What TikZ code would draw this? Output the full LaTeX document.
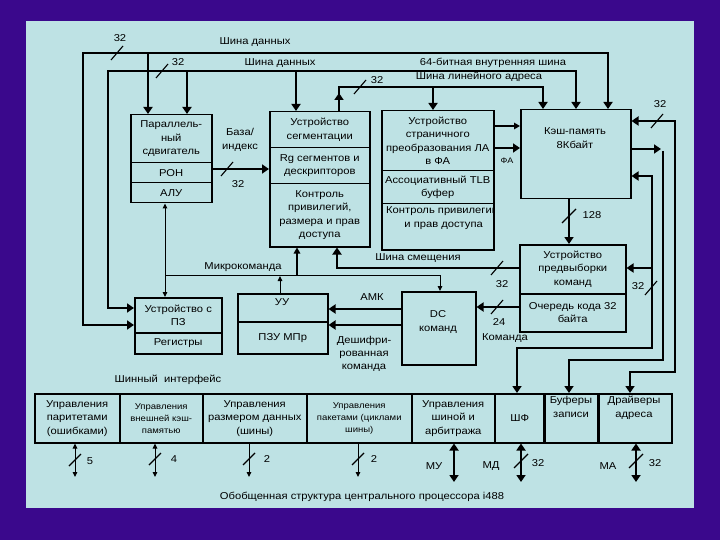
\documentclass[tikz,border=0pt]{standalone}
\usepackage{fontspec}
\setmainfont{Liberation Sans}[FakeStretch=1.12]
\usetikzlibrary{arrows.meta}
\definecolor{bgpurple}{RGB}{58,8,140}
\definecolor{panel}{RGB}{190,226,228}
\begin{document}
\begin{tikzpicture}[x=1pt,y=-1pt,
  every node/.style={font=\fontsize{10}{13.5}\selectfont},
  box/.style={draw,line width=1.5pt,inner sep=0pt,anchor=north west,align=center},
  lbl/.style={inner sep=0pt,align=center},
  small/.style={font=\fontsize{8.5}{12}\selectfont},
  bus/.style={line width=2.8pt,>={Triangle[length=7pt,width=9pt]}},
  med/.style={line width=1.8pt,>={Triangle[length=6pt,width=6.5pt]}},
  thn/.style={line width=1pt,>={Triangle[length=5pt,width=4.5pt]}},
  tk/.style={line width=1.1pt}]
\useasboundingbox (0,0) rectangle (720,540);
\fill[bgpurple] (0,0) rectangle (720,540);
\fill[panel] (26,21) rectangle (694,508);

% ---- boxes ----
\node[box,minimum width=81pt,minimum height=48pt] (sdv1) at (130,114) {Параллель-\\ный\\сдвигатель};
\node[box,minimum width=81pt,minimum height=20pt] (sdv2) at (130,162) {РОН};
\node[box,minimum width=81pt,minimum height=20pt] (sdv3) at (130,182) {АЛУ};

\node[box,minimum width=100pt,minimum height=36pt] (seg1) at (269,111) {Устройство\\сегментации};
\node[box,minimum width=100pt,minimum height=36pt] (seg2) at (269,147) {Rg сегментов и\\дескрипторов};
\node[box,minimum width=100pt,minimum height=63pt] (seg3) at (269,183) {Контроль\\привилегий,\\размера и прав\\доступа};

\node[box,minimum width=112pt,minimum height=60pt] (pg1) at (381,110) {Устройство\\страничного\\преобразования ЛА\\в ФА};
\node[box,minimum width=112pt,minimum height=33pt] (pg2) at (381,170) {Ассоциативный TLB\\буфер};
\node[box,minimum width=112pt,minimum height=46pt] (pg3) at (381,203) {};
\begin{scope}
\clip (382,204) rectangle (492,248);
\node[lbl,anchor=north west] (pg3t) at (386,206) {Контроль привилегий\\\hspace*{0.3em}и прав доступа};
\end{scope}

\node[box,minimum width=110pt,minimum height=89pt] (cache) at (520,109) {};
\node[lbl] (cachet) at (575,138) {Кэш-память\\8Кбайт};

\node[box,minimum width=106pt,minimum height=49pt] (pf1) at (519,244) {Устройство\\предвыборки\\команд};
\node[box,minimum width=106pt,minimum height=38pt] (pf2) at (519,293) {Очередь кода 32\\байта};

\node[box,minimum width=74pt,minimum height=73pt] (dc) at (401,291) {};
\node[lbl] (dct) at (438,322) {DC\\команд};

\node[box,minimum width=90pt,minimum height=28pt] (uu1) at (237,293) {};
\node[lbl] (uu1t) at (282,302) {УУ};
\node[box,minimum width=90pt,minimum height=32pt] (uu2) at (237,321) {ПЗУ МПр};

\node[box,minimum width=87pt,minimum height=35pt] (pz1) at (134,297) {Устройство с\\ПЗ};
\node[box,minimum width=87pt,minimum height=21pt] (pz2) at (134,332) {Регистры};

% bus interface cells
\node[box,minimum width=85pt,minimum height=49pt] (c1) at (34,393) {Управления\\паритетами\\(ошибками)};
\node[box,minimum width=83pt,minimum height=49pt,small] (c2) at (119,393) {Управления\\внешней кэш-\\памятью};
\node[box,minimum width=104pt,minimum height=49pt] (c3) at (202,393) {Управления\\размером данных\\(шины)};
\node[box,minimum width=105pt,minimum height=49pt,small] (c4) at (306,393) {Управления\\пакетами (циклами\\шины)};
\node[box,minimum width=83pt,minimum height=49pt] (c5) at (411,393) {Управления\\шиной и\\арбитража};
\node[box,minimum width=50pt,minimum height=49pt] (c6) at (494,393) {ШФ};
\node[box,minimum width=54pt,minimum height=49pt] (c7) at (544,393) {};
\node[lbl] (c7t) at (571,407) {Буферы\\записи};
\node[box,minimum width=73pt,minimum height=49pt] (c8) at (598,393) {};
\node[lbl] (c8t) at (634,408) {Драйверы\\адреса};
\draw[line width=2.2pt] (c7.north west) -- (c7.south west);
\draw[line width=2.2pt] (c8.north west) -- (c8.south west);

% ---- buses ----
\draw[bus,<->] (pz1.west |- 0,325) -- (83,325) -- (83,53) -- (608,53) -- (608,0 |- cache.north);
\draw[bus,->] (148,53) -- (148,0 |- sdv1.north);
\draw[bus,<->] (pz1.west |- 0,308) -- (108,308) -- (108,71) -- (576,71) -- (576,0 |- cache.north);
\draw[bus,->] (187,71) -- (187,0 |- sdv1.north);
\draw[bus,->] (296,71) -- (296,0 |- seg1.north);
\draw[bus,->] (339,0 |- seg1.north) -- (339,93);
\draw[bus,->] (339,95) -- (339,87) -- (543,87) -- (543,0 |- cache.north);
\draw[bus,->] (433,87) -- (433,0 |- pg1.north);

\draw[tk] (117,53) ++(-6,7) -- ++(12,-14);
\draw[tk] (162,71) ++(-6,7) -- ++(12,-14);
\draw[tk] (360,87) ++(-6,7) -- ++(12,-14);
\node[lbl] (n1) at (120,38) {32};
\node[lbl] (n2) at (178,62) {32};
\node[lbl] (n3) at (377,80) {32};
\node[lbl] (tdb1) at (255,42) {Шина данных};
\node[lbl] (tdb2) at (280,63) {Шина данных};
\node[lbl] (t64) at (493,63) {64-битная внутренняя шина};
\node[lbl] (tla) at (479,77) {Шина линейного адреса};

% sdv -> seg
\draw[bus,->] (sdv2.east |- 0,169) -- (seg2.west |- 0,169);
\draw[tk] (227,169) ++(-6,7) -- ++(12,-14);
\node[lbl] (n4) at (238,184) {32};
\node[lbl] (bi) at (240,140) {База/\\индекс};

% page -> cache
\draw[med,->] (pg1.east |- 0,126) -- (cache.west |- 0,126);
\draw[bus,->] (pg1.east |- 0,148) -- (cache.west |- 0,148);
\node[lbl,font=\fontsize{8}{10}\selectfont] (fa) at (507,161) {ФА};

% cache -> prefetch
\draw[bus,->] (569,0 |- cache.south) -- (569,0 |- pf1.north);
\draw[tk] (569,216) ++(-7,7) -- ++(14,-14);
\node[lbl] (n6) at (592,215) {128};

% right buses
\draw[bus,<->] (cache.east |- 0,121) -- (675,121) -- (675,372) -- (630,372) -- (630,0 |- c8.north);
\draw[tk] (657,121) ++(-6,7) -- ++(12,-14);
\node[lbl] (n5) at (660,104) {32};
\draw[bus,->] (cache.east |- 0,149) -- (661,149);
\draw[bus,->] (663,151) -- (663,360) -- (569,360) -- (569,0 |- c7.north);
\draw[bus,<->] (cache.east |- 0,176) -- (652,176) -- (652,348) -- (517,348) -- (517,0 |- c6.north);
\draw[bus,->] (652,268) -- (pf1.east |- 0,268);
\draw[tk] (651,288) ++(-6,7) -- ++(12,-14);
\node[lbl] (n9) at (638,286) {32};

% displacement bus
\draw[bus,->] (pf1.west |- 0,268) -- (337,268) -- (337,0 |- seg3.south);
\draw[tk] (497,268) ++(-6,7) -- ++(12,-14);
\node[lbl] (n7) at (502,284) {32};
\node[lbl] (tsm) at (418,258) {Шина смещения};

% queue -> DC
\draw[bus,->] (pf2.west |- 0,307) -- (dc.east |- 0,307);
\draw[tk] (497,307) ++(-6,7) -- ++(12,-14);
\node[lbl] (n8) at (499,322) {24};
\node[lbl] (tkom) at (505,338) {Команда};

% DC -> UU
\draw[bus,->] (dc.west |- 0,309) -- (uu1.east |- 0,309);
\draw[bus,->] (dc.west |- 0,325) -- (uu2.east |- 0,325);
\node[lbl] (tamk) at (372,297) {АМК};
\node[lbl,font=\fontsize{10}{13}\selectfont] (tdesh) at (364,354) {Дешифри-\\рованная\\команда};

% microcommand
\draw[thn,<->] (165,0 |- sdv3.south) -- (165,0 |- pz1.north);
\draw[thn,->] (165,275) -- (440,275) -- (440,0 |- dc.north);
\draw[thn,->] (280,0 |- uu1.north) -- (280,276);
\draw[med,->] (297,275) -- (297,0 |- seg3.south);
\node[lbl] (tmk) at (243,267) {Микрокоманда};

\node[lbl] (tsi) at (168,380) {Шинный\ \ интерфейс};

% bottom external lines
\draw[thn,<->] (75,0 |- c1.south) -- (75,477);
\draw[tk] (75,460) ++(-6,6) -- ++(12,-12);
\node[lbl] (b1) at (90,461) {5};
\draw[thn,<->] (155,0 |- c2.south) -- (155,477);
\draw[tk] (155,459) ++(-6,6) -- ++(12,-12);
\node[lbl] (b2) at (174,459) {4};
\draw[thn,->] (249,0 |- c3.south) -- (249,477);
\draw[tk] (249,459) ++(-6,6) -- ++(12,-12);
\node[lbl] (b3) at (267,459) {2};
\draw[thn,->] (358,0 |- c4.south) -- (358,477);
\draw[tk] (358,459) ++(-6,6) -- ++(12,-12);
\node[lbl] (b4) at (374,459) {2};
\draw[bus,<->] (454,0 |- c5.south) -- (454,482);
\node[lbl] (bmu) at (434,466) {МУ};
\draw[bus,<->] (521,0 |- c6.south) -- (521,482);
\draw[tk] (521,461) ++(-7,7) -- ++(14,-14);
\node[lbl] (bmd) at (491,466) {МД};
\node[lbl] (b5) at (538,463) {32};
\draw[bus,<->] (636,0 |- c8.south) -- (636,482);
\draw[tk] (636,461) ++(-7,7) -- ++(14,-14);
\node[lbl] (bma) at (608,466) {МА};
\node[lbl] (b6) at (655,463) {32};

\node[lbl] (title) at (362,497) {Обобщенная структура центрального процессора i488};
\end{tikzpicture}
\end{document}
